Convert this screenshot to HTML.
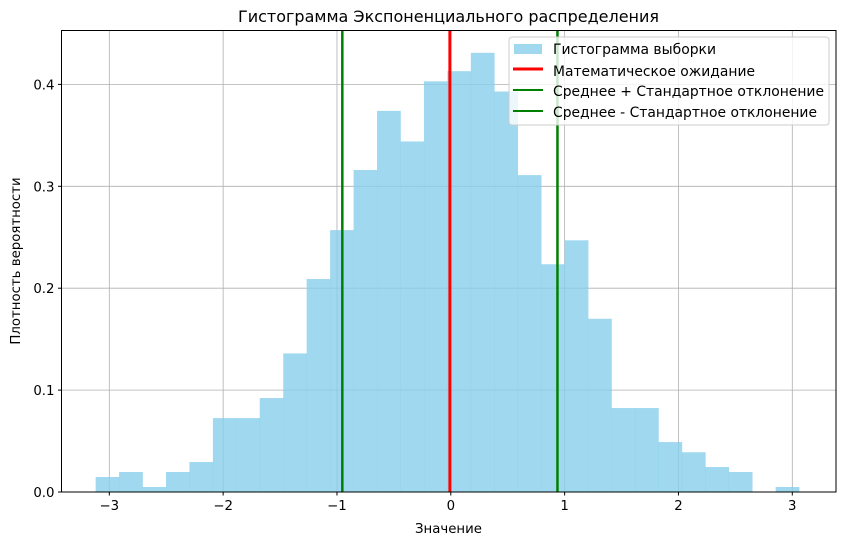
<!DOCTYPE html>
<html><head><meta charset="utf-8"><style>
body{margin:0;background:#fff}
svg{display:block;font-family:"DejaVu Sans","Liberation Sans",sans-serif}
</style></head><body>
<svg id="chart" width="846" height="545" viewBox="0 0 846 545" xmlns="http://www.w3.org/2000/svg">
<g id="grid"></g>
<g id="bars"></g>
<g id="vlines"></g>
<rect x="61.5" y="30.5" width="774.5" height="461.5" fill="none" stroke="#000" stroke-width="1"/>
<g id="ticks" font-size="13.3" fill="#000"></g>
<text x="448.5" y="22" text-anchor="middle" font-size="16">Гистограмма Экспоненциального распределения</text>
<text x="448.5" y="533" text-anchor="middle" font-size="13.3">Значение</text>
<text transform="translate(20,261) rotate(-90)" text-anchor="middle" font-size="13.3">Плотность вероятности</text>
<g>
<rect x="509" y="37" width="320" height="88" rx="3" fill="#fff" fill-opacity="0.8" stroke="#ccc"/>
<g><rect x="514" y="44" width="28" height="10" fill="#87ceeb" fill-opacity="0.8"/><text x="553" y="54" font-size="13.8" textLength="163" lengthAdjust="spacingAndGlyphs">Гистограмма выборки</text></g>
<g><line x1="513" y1="69" x2="543" y2="69" stroke="red" stroke-width="3"/><text x="553" y="76" font-size="13.8" textLength="202" lengthAdjust="spacingAndGlyphs">Математическое ожидание</text></g>
<g><line x1="513" y1="90" x2="543" y2="90" stroke="green" stroke-width="2"/><text x="553" y="96" font-size="13.8" textLength="271" lengthAdjust="spacingAndGlyphs">Среднее + Стандартное отклонение</text></g>
<g><line x1="513" y1="111" x2="543" y2="111" stroke="green" stroke-width="2"/><text x="553" y="117" font-size="13.8" textLength="264" lengthAdjust="spacingAndGlyphs">Среднее - Стандартное отклонение</text></g>
</g>
</svg>
<script>
const binStart = -3.12;
const binWidth = 0.206;
const densities = [0.0147,0.0196,0.0049,0.0196,0.0294,0.0725,0.0725,0.0922,0.136,0.209,0.257,0.316,0.374,0.344,0.403,0.413,0.431,0.393,0.311,0.2235,0.247,0.170,0.0824,0.0824,0.049,0.039,0.0245,0.0196,0,0.0049];
const meanValue = -0.008;
const stdValue = 0.945;
const xTicks = [-3,-2,-1,0,1,2,3];
const yTicks = [0,0.1,0.2,0.3,0.4];

const NS="http://www.w3.org/2000/svg";
const X0=61.5,X1=836,Y0=492,Y1=30.5;
const xmin=-3.42,xmax=3.384,ymin=0,ymax=0.4529;
function sx(v){return X0+(v-xmin)/(xmax-xmin)*(X1-X0);}
function sy(v){return Y0-(v-ymin)/(ymax-ymin)*(Y0-Y1);}
function mk(t,a,p){const e=document.createElementNS(NS,t);for(const k in a)e.setAttribute(k,a[k]);p.appendChild(e);return e;}
const grid=document.getElementById('grid'),ticks=document.getElementById('ticks');
xTicks.forEach(v=>{
 const x=sx(v);
 const g=mk('line',{x1:x,x2:x,y1:Y1,y2:Y0,stroke:'#b0b0b0','stroke-width':0.8},grid);
 
 
 const t=mk('line',{x1:x,x2:x,y1:Y0,y2:Y0+3.5,stroke:'#000'},ticks);
 
 
 const l=mk('text',{x:x,y:Y0+18,'text-anchor':'middle'},ticks);
 l.textContent=(v<0?'\u2212'+(-v):v);
 
 
});
yTicks.forEach(v=>{
 const y=sy(v);
 const g=mk('line',{x1:X0,x2:X1,y1:y,y2:y,stroke:'#b0b0b0','stroke-width':0.8},grid);
 
 
 const t=mk('line',{x1:X0-3.5,x2:X0,y1:y,y2:y,stroke:'#000'},ticks);
 
 
 const l=mk('text',{x:X0-7,y:y+5,'text-anchor':'end'},ticks);
 l.textContent=v.toFixed(1);
 
 
});
const bars=document.getElementById('bars');
densities.forEach((d,i)=>{
 const a=binStart+i*binWidth,b=a+binWidth;
 const r=mk('rect',{x:sx(a),y:sy(d),width:sx(b)-sx(a)+0.3,height:Y0-sy(d),fill:'#87ceeb','fill-opacity':0.8},bars);
 
 
});
const vl=document.getElementById('vlines');
[[meanValue,'red',3,'mean-line'],[meanValue+stdValue,'green',2.5,'plus-std-line'],[meanValue-stdValue,'green',2.5,'minus-std-line']].forEach(([v,c,w,n])=>{
 const l=mk('line',{x1:sx(v),x2:sx(v),y1:Y1,y2:Y0,stroke:c,'stroke-width':w},vl);
 
 
});
</script>
</body></html>
